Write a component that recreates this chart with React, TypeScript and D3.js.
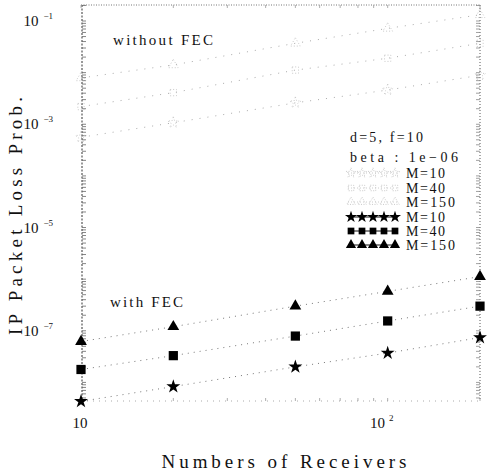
import React from "react";
import * as d3 from "d3";

const receivers = [10, 20, 50, 100, 200];
const seriesNames = ["M=10", "M=40", "M=150"];
// without FEC
const noFec10 = [5.6e-4, 1.07e-3, 2.6e-3, 4.6e-3, 8.9e-3];
const noFec40 = [2.2e-3, 4.1e-3, 1.12e-2, 1.9e-2, 3.7e-2];
const noFec150 = [7.9e-3, 1.41e-2, 3.7e-2, 7.2e-2, 0.132];
// with FEC
const fec10 = [4.3e-9, 8.3e-9, 2.0e-8, 3.7e-8, 7.4e-8];
const fec40 = [1.78e-8, 3.3e-8, 7.9e-8, 1.55e-7, 3.0e-7];
const fec150 = [6.2e-8, 1.2e-7, 3.0e-7, 5.8e-7, 1.12e-6];
const yTickExps = [-1, -3, -5, -7];
const xTickExps = [1, 2];
const legendHeader = ["d=5,  f=10", "beta  :  1e\u221206"];

const W = 495, H = 473;
const L = 81, R = 480, T = 5, B = 401;

const FONT = "Liberation Serif";

export default function App() {
  const x = d3.scaleLog().domain([10, 200]).range([L, R]);
  const y = d3.scaleLog().domain([Math.pow(10, -8.36), Math.pow(10, -0.69)]).range([B, T]);
  const line = d3.line<number>().x((_, i) => x(receivers[i])).y((v) => y(v));
  const symTypes = [d3.symbolStar, d3.symbolSquare, d3.symbolTriangle];
  const symSizes = [60, 85, 60];
  const sym = (i: number, s?: number) => d3.symbol().type(symTypes[i]).size(s ?? symSizes[i])()!;

  const noFec = [noFec10, noFec40, noFec150];
  const fec = [fec10, fec40, fec150];

  const yMinor: number[] = [];
  for (let e = -9; e <= 0; e++) for (let m = 1; m <= 9; m++) {
    const v = m * Math.pow(10, e);
    const py = y(v);
    if (py >= T && py <= B) yMinor.push(v);
  }
  const xMinor: number[] = [];
  for (let e = 1; e <= 2; e++) for (let m = 1; m <= 9; m++) {
    const v = m * Math.pow(10, e);
    if (v >= 10 && v <= 200) xMinor.push(v);
  }

  const legendRowsY = [173, 188, 202, 217, 231, 245];
  const txt = { fontFamily: FONT, fill: "#111" } as React.CSSProperties;

  return (
    <svg width={W} height={H} style={{ position: "absolute", left: 0, top: 0, background: "#fff" }}>
      <rect x={0} y={0} width={W} height={H} fill="#fff" />
      <line x1={L + 1} x2={L + 1} y1={T} y2={B} stroke="#333" strokeWidth={1} strokeDasharray="2 1.5" />
      <line x1={R} x2={R} y1={T} y2={B} stroke="#555" strokeWidth={1} strokeDasharray="1 2" />
      <line x1={L} x2={R} y1={T} y2={T} stroke="#777" strokeWidth={1} strokeDasharray="1 1.5" />
      <line x1={L} x2={R} y1={B} y2={B} stroke="#aaa" strokeWidth={1} strokeDasharray="1 5" />
      {yMinor.map((v, i) => (
        <g key={"ym" + i}>
          <line x1={L + 1} x2={L + 5} y1={y(v)} y2={y(v)} stroke="#666" strokeWidth={0.8} />
          <line x1={R} x2={R - 4} y1={y(v)} y2={y(v)} stroke="#888" strokeWidth={0.8} />
        </g>
      ))}
      {xMinor.map((v, i) => (
        <g key={"xm" + i}>
          <line x1={x(v)} x2={x(v)} y1={B} y2={B - 3} stroke="#999" strokeWidth={0.8} />
          <line x1={x(v)} x2={x(v)} y1={T} y2={T + 3} stroke="#999" strokeWidth={0.8} />
        </g>
      ))}

      {yTickExps.map((e) => (
        <text key={"yt" + e} x={53} y={y(Math.pow(10, e)) + 5} textAnchor="end" style={txt} fontSize={15}>
          10
          <tspan dx={5} dy={-7} fontSize={9}>{"\u2212" + Math.abs(e)}</tspan>
        </text>
      ))}
      {xTickExps.map((e) => (
        <text key={"xt" + e} x={e === 1 ? x(10) - 1 : x(100) - 6} y={428} textAnchor="middle" style={txt} fontSize={15}>
          10
          {e !== 1 && <tspan dx={4} dy={-7} fontSize={9}>{e}</tspan>}
        </text>
      ))}

      {noFec.map((s, k) => (
        <g key={"nf" + k}>
          <path d={line(s)!} fill="none" stroke="#aaa" strokeWidth={1} strokeDasharray="1 7" />
          {s.map((v, i) => (
            <path key={i} d={sym(k, 40)} transform={`translate(${x(receivers[i])},${y(v)})`}
              fill="none" stroke="#bbb" strokeWidth={0.8} strokeDasharray="1 2" />
          ))}
        </g>
      ))}
      {fec.map((s, k) => (
        <g key={"f" + k}>
          <path d={line(s)!} fill="none" stroke="#777" strokeWidth={1} strokeDasharray="1 5" />
          {s.map((v, i) => (
            <path key={i} d={sym(k)} transform={`translate(${x(receivers[i])},${y(v)})`} fill="#000" />
          ))}
        </g>
      ))}

      <text x={113} y={45} style={txt} fontSize={15} textLength={100}>without FEC</text>
      <text x={110} y={307} style={txt} fontSize={15} textLength={73}>with FEC</text>

      <text x={350} y={142} style={txt} fontSize={14} textLength={73}>{legendHeader[0]}</text>
      <text x={350} y={162} style={txt} fontSize={14} textLength={108}>{legendHeader[1]}</text>
      {[0, 1, 2, 3, 4, 5].map((r) => {
        const k = r % 3;
        const filled = r >= 3;
        const ly = legendRowsY[r];
        const n = 5;
        return (
          <g key={"lg" + r}>
            <line x1={348} x2={398} y1={ly} y2={ly} stroke={filled ? "#111" : "#ccc"} strokeWidth={1}
              strokeDasharray={filled ? undefined : "1 2"} />
            {d3.range(n).map((j) => (
              <path key={j} d={sym(k, filled ? 45 : 30)} transform={`translate(${351 + j * 11},${ly})`}
                fill={filled ? "#000" : "none"} stroke={filled ? "none" : "#bbb"} strokeWidth={0.8}
                strokeDasharray={filled ? undefined : "1 1.5"} />
            ))}
            <text x={406} y={ly + 5} style={txt} fontSize={14}
              textLength={k === 2 ? 49 : 39}>{seriesNames[k]}</text>
          </g>
        );
      })}

      <text x={284} y={468} textAnchor="middle" style={txt} fontSize={19} textLength={245}>
        Numbers of Receivers
      </text>
      <text transform="translate(22,216) rotate(-90)" textAnchor="middle" style={txt} fontSize={19}
        textLength={238}>
        IP Packet Loss Prob.
      </text>
    </svg>
  );
}
